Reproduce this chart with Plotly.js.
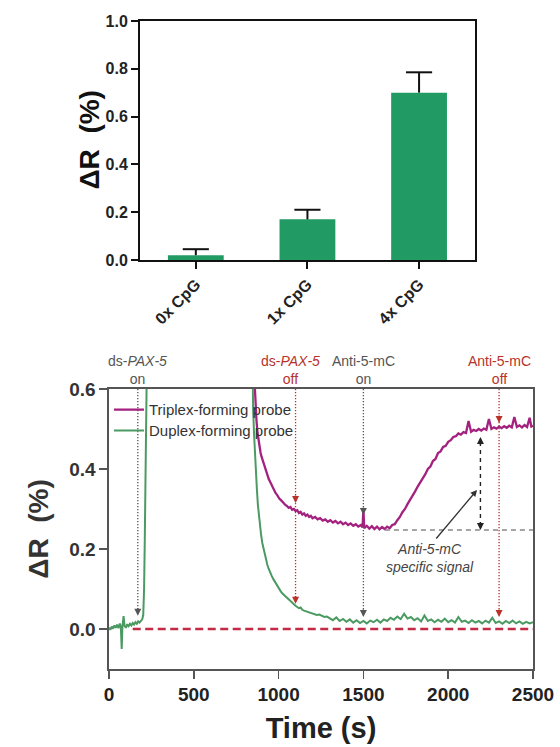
<!DOCTYPE html>
<html><head><meta charset="utf-8">
<script src="https://cdn.plot.ly/plotly-3.0.1.min.js"></script>
<style>html,body{margin:0;padding:0;background:#fff}#chart{width:560px;height:747px}</style>
</head><body><div id="chart"></div>
<script>
// ---------- top panel data ----------
const barCategories = ['0x CpG', '1x CpG', '4x CpG'];
const barValues = [0.02, 0.17, 0.70];
const barErrors = [0.025, 0.04, 0.085];

// ---------- bottom panel data ----------
const duplexTime = [0,8,16,24,32,40,48,56,64,70,75,79,86,92,100,108,116,124,132,140,148,156,164,172,180,188,196,202,207,211,215,219,223,230,
 838,845,850,855,860,866,872,878,884,890,897,904,911,918,926,934,942,950,960,970,980,990,1000,1010,1020,1030,1040,1050,1060,1070,1080,1090,1100,1110,1120,1130,1140,1150,1165,1180,1195,1210,1225,1240,1255,1270,1285,
 1300,1320,1340,1360,1380,1400,1420,1440,1460,1480,1500,1520,1540,1560,1580,1600,1620,1640,1660,1680,1700,1720,1740,1760,1780,1800,1820,1840,1860,1880,1900,1920,1940,1960,1980,2000,2020,2040,2060,2080,2100,2120,2140,2160,2180,2200,2220,2240,2260,2280,2300,2320,2340,2360,2380,2400,2420,2440,2460,2480,2500];
const duplexValues = [0.004,-0.002,0.006,0.001,0.009,0.003,0.011,0.002,0.014,0.005,-0.05,0.004,0.032,0.008,0.003,0.012,0.007,0.013,0.009,0.015,0.011,0.017,0.013,0.019,0.016,0.021,0.024,0.035,0.1,0.22,0.36,0.5,0.62,0.9,
 0.9,0.61,0.55,0.49,0.44,0.39,0.35,0.31,0.28,0.255,0.235,0.215,0.2,0.185,0.172,0.16,0.15,0.14,0.132,0.124,0.116,0.11,0.103,0.096,0.09,0.086,0.08,0.077,0.072,0.068,0.064,0.06,0.058,0.055,0.052,0.054,0.048,0.046,0.044,0.041,0.039,0.037,0.035,0.036,0.032,0.03,0.031,
 0.027,0.022,0.029,0.02,0.025,0.018,0.024,0.016,0.022,0.015,0.02,0.014,0.021,0.017,0.023,0.016,0.024,0.02,0.028,0.023,0.031,0.025,0.038,0.026,0.03,0.022,0.027,0.019,0.034,0.02,0.024,0.017,0.023,0.018,0.026,0.017,0.022,0.016,0.03,0.018,0.021,0.015,0.022,0.016,0.02,0.014,0.021,0.016,0.028,0.015,0.019,0.013,0.02,0.015,0.021,0.014,0.019,0.013,0.018,0.014,0.017];

const triplexTime = [858,864,870,876,882,888,894,900,907,914,921,928,935,942,950,958,966,974,982,990,998,1006,1014,1022,1030,1040,1050,1060,1070,1080,1090,1100,1110,1120,1130,1140,1150,1160,1170,1180,1190,1200,1215,1230,1245,1260,1275,1290,1305,1320,1335,1350,1365,1380,1395,1410,1425,1440,1455,1470,1485,1495,1500,1505,1520,1535,1550,1565,1580,1595,1610,1625,1640,1655,1670,1685,1700,1715,1730,1745,1760,1775,1790,1805,1820,1835,1850,1865,1880,1895,1910,1925,1940,1955,1970,1985,2000,2015,2030,2045,2060,2075,2090,2105,2120,2135,2150,2165,2180,2195,2210,2225,2240,2255,2270,2285,2300,2315,2330,2345,2360,2375,2390,2405,2420,2435,2450,2465,2480,2490,2500];
const triplexValues = [0.62,0.56,0.52,0.49,0.47,0.455,0.44,0.43,0.42,0.41,0.4,0.392,0.385,0.375,0.368,0.36,0.352,0.347,0.34,0.336,0.33,0.325,0.322,0.318,0.314,0.31,0.307,0.303,0.305,0.298,0.3,0.295,0.297,0.29,0.293,0.286,0.289,0.283,0.286,0.28,0.283,0.277,0.28,0.274,0.277,0.271,0.274,0.268,0.272,0.266,0.27,0.264,0.268,0.262,0.266,0.26,0.264,0.258,0.262,0.256,0.26,0.254,0.3,0.252,0.258,0.251,0.257,0.25,0.256,0.249,0.255,0.25,0.256,0.252,0.26,0.262,0.272,0.28,0.292,0.3,0.312,0.322,0.335,0.344,0.356,0.366,0.378,0.387,0.4,0.406,0.42,0.425,0.44,0.444,0.455,0.458,0.468,0.472,0.48,0.482,0.489,0.486,0.492,0.49,0.52,0.493,0.498,0.495,0.5,0.496,0.501,0.498,0.525,0.5,0.504,0.501,0.506,0.502,0.507,0.503,0.508,0.504,0.53,0.505,0.509,0.504,0.51,0.505,0.528,0.506,0.508];

const zeroLineStart = 140;
const eventTimes = [170, 1100, 1500, 2300];
const eventLabelTop = ['ds-<i>PAX-5</i>', 'ds-<i>PAX-5</i>', 'Anti-5-mC', 'Anti-5-mC'];
const eventLabelBottom = ['on', 'off', 'on', 'off'];
const eventColors = ['#555555', '#b8322a', '#555555', '#b8322a'];
const eventArrowTips = [[0.033], [0.315, 0.063], [0.285, 0.03], [0.515, 0.03]];
const signalTime = 2190;
const signalLow = 0.2475;
const signalHigh = 0.48;
const signalLineStart = 1627;
const signalNoteTail = [1922, 0.2225];
const signalNoteHead = [2170, 0.3475];
const signalNoteText = [1893, 0.177];

// ---------- build ----------
const FONT = 'Liberation Sans, Arial, Helvetica, sans-serif';
const barColor = '#229a64';
const magenta = '#a3217f';
const green = '#4b9a62';
const capHalf = 0.117;

const errX = [], errY = [];
barValues.forEach((v, i) => {
  const top = v + barErrors[i];
  errX.push(i, i, null, i - capHalf, i + capHalf, null);
  errY.push(v, top, null, top, top, null);
});

const traces = [
  {type: 'bar', x: barCategories.map((c, i) => i), y: barValues, width: 0.5,
   marker: {color: barColor}, xaxis: 'x', yaxis: 'y', showlegend: false, hoverinfo: 'skip'},
  {type: 'scatter', mode: 'lines', x: errX, y: errY, line: {color: '#111', width: 2},
   xaxis: 'x', yaxis: 'y', showlegend: false, hoverinfo: 'skip', cliponaxis: false},
  {type: 'scatter', mode: 'lines', name: 'Triplex-forming probe', x: triplexTime, y: triplexValues,
   line: {color: magenta, width: 2.3}, xaxis: 'x2', yaxis: 'y2', legend: 'legend'},
  {type: 'scatter', mode: 'lines', name: 'Duplex-forming probe', x: duplexTime, y: duplexValues,
   line: {color: green, width: 2}, xaxis: 'x2', yaxis: 'y2', legend: 'legend2'}
];

const shapes = [];
const annotations = [];
shapes.push({type: 'line', xref: 'x2', yref: 'y2', x0: zeroLineStart, x1: 2500, y0: 0, y1: 0,
  line: {color: '#c42a44', width: 2.4, dash: '8px,4.5px'}});
eventTimes.forEach((t, i) => {
  const tips = eventArrowTips[i];
  const lowest = Math.min(...tips);
  shapes.push({type: 'line', xref: 'x2', yref: 'y2', x0: t, x1: t, y0: 0.6, y1: lowest + 0.01,
    line: {color: eventColors[i], width: 1.3, dash: '1.3px,1.7px'}});
  tips.forEach(v => annotations.push({xref: 'x2', yref: 'y2', x: t, y: v, text: '', showarrow: true,
    arrowhead: 2, arrowsize: 1, arrowwidth: 1.4, arrowcolor: eventColors[i], ax: 0, ay: -9}));
  annotations.push({xref: 'x2', yref: 'paper', x: t, y: 0.5047, xshift: i === 1 ? -5 : 0,
    text: eventLabelTop[i] + '<br>' + eventLabelBottom[i], showarrow: false, align: 'center',
    font: {family: FONT, size: 14, color: eventColors[i]}});
});
// dashed double arrow
shapes.push({type: 'line', xref: 'x2', yref: 'y2', x0: signalTime, x1: signalTime, y0: signalLow + 0.01, y1: signalHigh - 0.01,
  line: {color: '#222', width: 1.4, dash: '4px,4px'}});
annotations.push({xref: 'x2', yref: 'y2', x: signalTime, y: signalHigh, text: '', showarrow: true,
  arrowhead: 2, arrowsize: 1, arrowwidth: 1.4, arrowcolor: '#222', ax: 0, ay: 9});
annotations.push({xref: 'x2', yref: 'y2', x: signalTime, y: signalLow, text: '', showarrow: true,
  arrowhead: 2, arrowsize: 1, arrowwidth: 1.4, arrowcolor: '#222', ax: 0, ay: -9});
shapes.push({type: 'line', xref: 'x2', yref: 'y2', x0: signalLineStart, x1: 2500, y0: signalLow, y1: signalLow,
  line: {color: '#888', width: 1.4, dash: '5px,4px'}});
annotations.push({xref: 'x2', yref: 'y2', x: signalNoteHead[0], y: signalNoteHead[1], text: '', showarrow: true,
  axref: 'x2', ayref: 'y2', ax: signalNoteTail[0], ay: signalNoteTail[1],
  arrowhead: 2, arrowsize: 1, arrowwidth: 1.3, arrowcolor: '#333'});
annotations.push({xref: 'x2', yref: 'y2', x: signalNoteText[0], y: signalNoteText[1], showarrow: false,
  text: '<i>Anti-5-mC</i><br><i>specific signal</i>', align: 'center',
  font: {family: FONT, size: 14, color: '#444'}});
// top panel y title
annotations.push({xref: 'paper', yref: 'paper', x: 90 / 560, y: 0.8119, xanchor: 'center', yanchor: 'middle',
  text: 'ΔR\u00a0\u00a0(%)', textangle: -90, showarrow: false,
  font: {family: FONT, size: 28, weight: 'bold', color: '#111'}});

const legendCommon = {xanchor: 'left', yanchor: 'top', bgcolor: 'rgba(0,0,0,0)',
  font: {family: FONT, size: 15, color: '#333'}, itemwidth: 30};

const layout = {
  width: 560, height: 747, autosize: false,
  margin: {l: 0, r: 0, t: 0, b: 0},
  paper_bgcolor: '#fff', plot_bgcolor: 'rgba(0,0,0,0)',
  font: {family: FONT, color: '#222'},
  showlegend: true,
  legend: Object.assign({x: 0.1946, y: 0.4734}, legendCommon),
  legend2: Object.assign({x: 0.1946, y: 0.4455}, legendCommon),
  xaxis: {domain: [0.25, 0.848], anchor: 'y', range: [-0.5, 2.5], tickvals: [0, 1, 2], ticktext: barCategories,
    tickangle: -45, ticks: 'outside', ticklen: 7, tickwidth: 2, tickcolor: '#111',
    showline: true, linewidth: 2, linecolor: '#111', mirror: true, showgrid: false, zeroline: false,
    tickfont: {family: FONT, size: 16, weight: 'bold', color: '#222'}, fixedrange: true},
  yaxis: {domain: [0.652, 0.972], anchor: 'x', range: [0, 1], tickvals: [0, 0.2, 0.4, 0.6, 0.8, 1.0], tickformat: '.1f',
    ticks: 'outside', ticklen: 7, tickwidth: 2, tickcolor: '#111',
    showline: true, linewidth: 2, linecolor: '#111', mirror: true, showgrid: false, zeroline: false,
    tickfont: {family: FONT, size: 16, weight: 'bold', color: '#222'}},
  xaxis2: {domain: [0.1946, 0.9518], anchor: 'y2', range: [0, 2500], tickvals: [0, 500, 1000, 1500, 2000, 2500],
    ticks: 'outside', ticklen: 8, tickwidth: 1.5, tickcolor: '#555',
    showline: true, linewidth: 1.5, linecolor: '#555', mirror: true, showgrid: false, zeroline: false,
    tickfont: {family: FONT, size: 19, weight: 'bold', color: '#222'},
    title: {text: 'Time (s)', font: {family: FONT, size: 29, weight: 'bold', color: '#222'}, standoff: 13}},
  yaxis2: {domain: [0.1044, 0.4793], anchor: 'x2', range: [-0.1, 0.6], tickvals: [0, 0.2, 0.4, 0.6], tickformat: '.1f',
    ticks: 'outside', ticklen: 8, tickwidth: 1.5, tickcolor: '#555',
    showline: true, linewidth: 1.5, linecolor: '#555', mirror: true, showgrid: false, zeroline: false,
    tickfont: {family: FONT, size: 19, weight: 'bold', color: '#333'},
    title: {text: 'ΔR\u00a0\u00a0(%)', font: {family: FONT, size: 28, weight: 'bold', color: '#333'}, standoff: 12}},
  shapes: shapes,
  annotations: annotations
};

Plotly.newPlot('chart', traces, layout, {staticPlot: true, displayModeBar: false});
</script>
</body></html>
